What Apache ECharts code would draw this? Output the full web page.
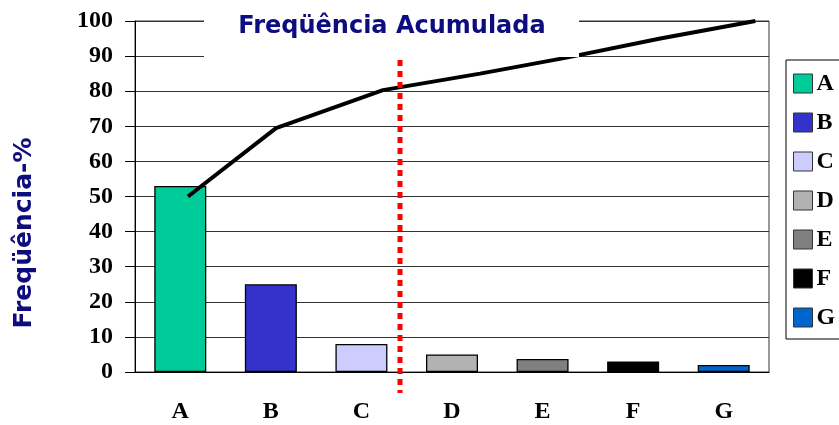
<!DOCTYPE html>
<html>
<head>
<meta charset="utf-8">
<script src="https://cdn.jsdelivr.net/npm/echarts@6/dist/echarts.min.js"></script>
<style>html,body{margin:0;padding:0;background:#fff;}#c{width:839px;height:425px;}</style>
</head>
<body>
<div id="c"></div>
<script>
var categories = ['A','B','C','D','E','F','G'];
var values = [53, 25, 8, 5, 3.7, 3, 2];
var barColors = ['#00CC99','#3333CC','#CCCCFF','#B2B2B2','#808080','#000000','#0066CC'];
var cumX = [0.585, 1.557, 2.738, 3.81, 4.75, 5.8, 6.85];
var cumY = [50, 69.5, 80.3, 85, 89.5, 95, 100];
var cutX = 2.926;
var cutY = [92, -6];
var yTicks = [0, 10, 20, 30, 40, 50, 60, 70, 80, 90, 100];

var chart = echarts.init(document.getElementById('c'));
var barSeries = categories.map(function (c, i) {
  return {
    name: c, type: 'bar', stack: 'all', barWidth: 52,
    itemStyle: { color: barColors[i], borderColor: '#000', borderWidth: 1.3 },
    data: categories.map(function (cc, j) { return j === i ? values[i] : null; }),
    z: 2
  };
});
var serif = '"Liberation Serif", "Times New Roman", serif';
var sans = '"DejaVu Sans", Verdana, sans-serif';
chart.setOption({
  animation: false,
  grid: { left: 135, right: 70, top: 21, bottom: 53, show: true, borderColor: '#333', borderWidth: 1 },
  legend: {
    orient: 'vertical', left: 786, top: 60,
    padding: [10, 12, 8, 7], itemGap: 12, itemWidth: 19, itemHeight: 19,
    borderColor: '#000', borderWidth: 1,
    icon: 'rect',
    data: categories,
    textStyle: { fontFamily: serif, fontWeight: 'bold', fontSize: 24, lineHeight: 27, color: '#000', padding: [0,0,0,-1] },
    itemStyle: { borderColor: '#333', borderWidth: 1 }
  },
  xAxis: [{
    type: 'category', data: categories,
    axisLine: { lineStyle: { color: '#000', width: 1 } },
    axisTick: { length: 10, lineStyle: { color: '#000' } },
    axisLabel: { fontFamily: serif, fontWeight: 'bold', fontSize: 24, color: '#000', margin: 28 }
  }, {
    type: 'value', min: 0, max: 7, show: false
  }],
  yAxis: {
    type: 'value', min: 0, max: 100, interval: 10,
    axisLine: { show: true, lineStyle: { color: '#000', width: 1 } },
    axisTick: { show: true, length: 10, lineStyle: { color: '#000' } },
    axisLabel: { fontFamily: serif, fontWeight: 'bold', fontSize: 24, color: '#000', margin: 22,
      formatter: function (v) { return yTicks.indexOf(v) >= 0 ? String(v) : ''; } },
    splitLine: { lineStyle: { color: '#333', width: 1.2 } }
  },
  series: barSeries.concat([{
    type: 'line', xAxisIndex: 1, symbol: 'none', silent: true, z: 5,
    lineStyle: { color: '#000', width: 4 },
    data: cumX.map(function (x, i) { return [x, cumY[i]]; })
  }, {
    type: 'line', xAxisIndex: 1, symbol: 'none', silent: true, clip: false, z: 6,
    lineStyle: { color: '#FF0000', width: 5, type: [6, 5] },
    data: cutY.map(function (y) { return [cutX, y]; })
  }]),
  graphic: [{
    type: 'rect', left: 204, top: 0, z: 100,
    shape: { width: 375, height: 57 },
    style: { fill: '#fff' }
  }, {
    type: 'text', x: 392, y: 27, z: 101,
    style: { text: 'Freqüência Acumulada', textAlign: 'center', textVerticalAlign: 'middle',
      font: 'bold 24px ' + sans, fill: '#0d0d80' }
  }, {
    type: 'text', x: 24, y: 233, rotation: Math.PI / 2, z: 101,
    style: { text: 'Freqüência-%', textAlign: 'center', textVerticalAlign: 'middle',
      font: 'bold 25px ' + sans, fill: '#0d0d80' }
  }]
});
</script>
</body>
</html>
